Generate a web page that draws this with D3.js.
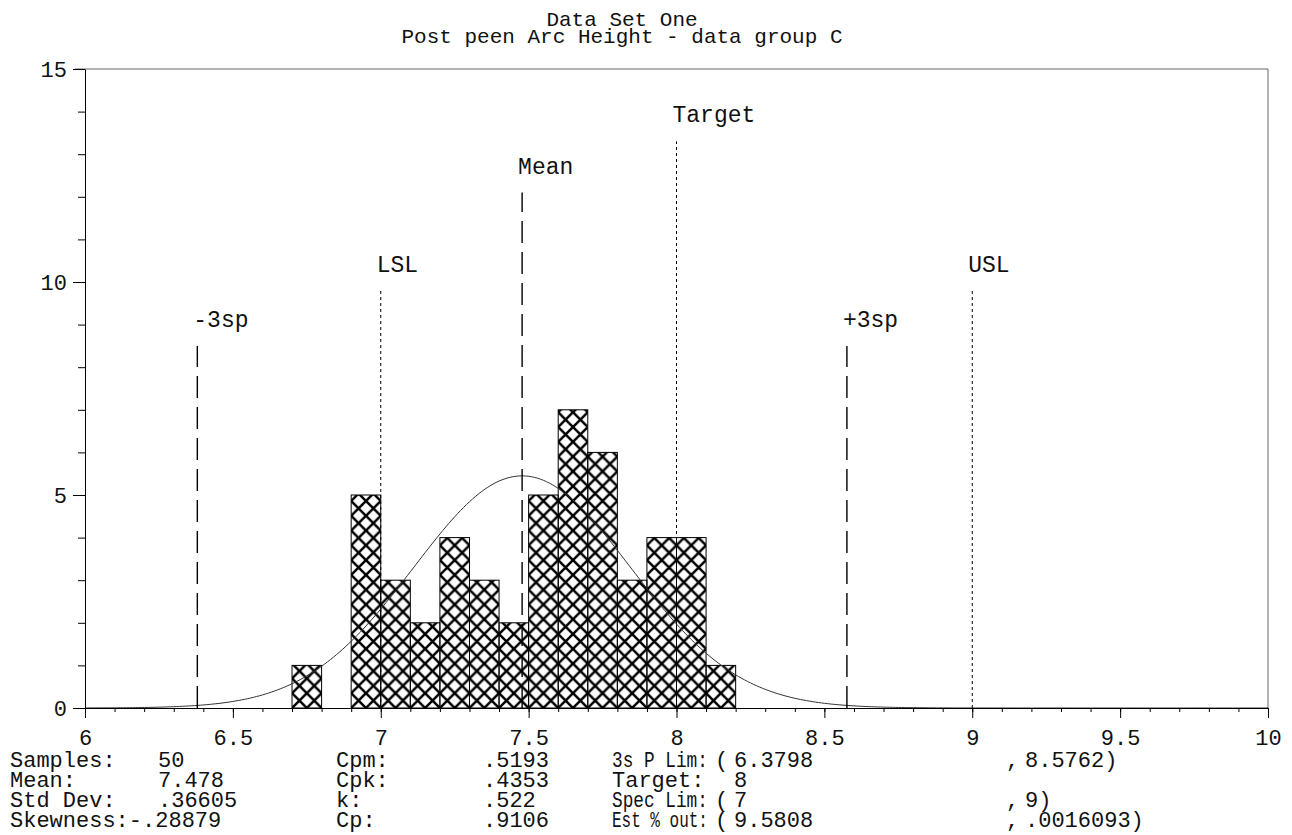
<!DOCTYPE html>
<html>
<head>
<meta charset="utf-8">
<script src="https://cdn.jsdelivr.net/npm/d3@7"></script>
<style>
  html, body { margin: 0; padding: 0; background: #fff; }
  svg { display: block; }
  text { font-family: "Liberation Mono", "Courier New", monospace; fill: #111; }
</style>
</head>
<body>
<svg id="chart" width="1292" height="835"></svg>
<script>
// ---- histogram data: bin start (width 0.1) and counts ----
const binStarts = [6.7, 6.9, 7.0, 7.1, 7.2, 7.3, 7.4, 7.5, 7.6, 7.7, 7.8, 7.9, 8.0, 8.1];
const binCounts = [1, 5, 3, 2, 4, 3, 2, 5, 7, 6, 3, 4, 4, 1];
const binWidth = 0.1;

// ---- summary statistics ----
const samples = 50;
const mean = 7.478;
const stdDev = 0.36605;

// ---- reference lines ----
const markerNames  = ["-3sp", "LSL", "Mean", "Target", "+3sp", "USL"];
const markerValues = [6.3798, 7, 7.478, 8, 8.5762, 9];
const markerTops   = [8.5, 9.8, 12.1, 13.3, 8.5, 9.8];
const markerKinds  = ["dash", "dot", "dash", "dot", "dash", "dot"];

// ---- axis ticks ----
const xMajorTicks = [6, 6.5, 7, 7.5, 8, 8.5, 9, 9.5, 10];
const xMinorTicks = d3.range(60, 101).map(d => d / 10);
const yMajorTicks = [0, 5, 10, 15];
const yMinorTicks = d3.range(0, 16);

// ---- statistics table ----
const statNames1  = ["Samples:", "Mean:", "Std Dev:", "Skewness:"];
const statVals1   = ["50", "7.478", ".36605", "-.28879"];
const statNames2  = ["Cpm:", "Cpk:", "k:", "Cp:"];
const statVals2   = [".5193", ".4353", ".522", ".9106"];
const statNames3  = ["3s P Lim:", "Target:", "Spec Lim:", "Est % out:"];
const statLow3    = ["6.3798", "8", "7", "9.5808"];
const statHigh3   = ["8.5762)", null, "9)", ".0016093)"];
const statParen3  = [true, false, true, true];

const titleLines = ["Data Set One", "Post peen Arc Height - data group C"];

const svg = d3.select("#chart");
const x = d3.scaleLinear().domain([6, 10]).range([85, 1268]);
const y = d3.scaleLinear().domain([0, 15]).range([708, 69]);

// title
svg.append("g").selectAll("text").data(titleLines).join("text")
  .attr("x", 622).attr("y", (d, i) => 26 + i * 17)
  .attr("text-anchor", "middle").style("font-size", "21px").text(d => d);

// cross-hatch fill
const tile = (x(6 + binWidth) - x(6)) / 2;
const pat = svg.append("defs").append("pattern")
  .attr("id", "xhatch").attr("patternUnits", "userSpaceOnUse")
  .attr("x", x(7)).attr("y", y(0))
  .attr("width", tile).attr("height", tile);
pat.append("path")
  .attr("d", `M-1,-1L${tile + 1},${tile + 1}M${tile + 1},-1L-1,${tile + 1}`)
  .attr("stroke", "#000").attr("stroke-width", 2.5).attr("fill", "none");

// frame (top and right)
svg.append("path")
  .attr("d", `M${x(6) - 10},${y(15)}H${x(10)}V${y(0)}`)
  .attr("fill", "none").attr("stroke", "#666").attr("stroke-width", 1);

// bars
svg.append("g").selectAll("rect").data(binStarts).join("rect")
  .attr("x", d => x(d))
  .attr("width", d => x(d + binWidth) - x(d))
  .attr("y", (d, i) => y(binCounts[i]))
  .attr("height", (d, i) => y(0) - y(binCounts[i]))
  .attr("fill", "url(#xhatch)")
  .attr("stroke", "#000").attr("stroke-width", 1);

// fitted normal curve
const scaleN = samples * binWidth / (stdDev * Math.sqrt(2 * Math.PI));
const curveX = d3.range(600, 1001).map(d => d / 100);
svg.append("path")
  .datum(curveX)
  .attr("fill", "none").attr("stroke", "#333").attr("stroke-width", 1)
  .attr("d", d3.line()
    .x(d => x(d))
    .y(d => y(scaleN * Math.exp(-0.5 * Math.pow((d - mean) / stdDev, 2)))));

// reference lines and labels
const mk = svg.append("g");
markerValues.forEach((v, i) => {
  const dash = markerKinds[i] === "dash";
  mk.append("line")
    .attr("x1", x(v)).attr("x2", x(v))
    .attr("y1", y(0)).attr("y2", y(markerTops[i]))
    .attr("stroke", "#000")
    .attr("stroke-width", dash ? 1.4 : 1)
    .attr("stroke-dasharray", dash ? "22,9" : "3,3");
  mk.append("text")
    .attr("x", x(v) - 4).attr("y", y(markerTops[i]) - 19)
    .style("font-size", "23px").text(markerNames[i]);
});

// x axis
const xMinor = svg.append("g").attr("transform", `translate(0,${y(0)})`)
  .call(d3.axisBottom(x).tickValues(xMinorTicks).tickSize(4).tickFormat(""));
xMinor.select(".domain").remove();
const xAxis = svg.append("g").attr("transform", `translate(0,${y(0)})`)
  .call(d3.axisBottom(x).tickValues(xMajorTicks).tickSize(10).tickSizeOuter(0)
    .tickPadding(11).tickFormat(d => String(d)));
xAxis.selectAll("text").style("font-size", "22px").attr("fill", "#111");

// y axis
const yMinor = svg.append("g").attr("transform", `translate(${x(6)},0)`)
  .call(d3.axisLeft(y).tickValues(yMinorTicks).tickSize(7).tickFormat(""));
yMinor.select(".domain").remove();
const yAxis = svg.append("g").attr("transform", `translate(${x(6)},0)`)
  .call(d3.axisLeft(y).tickValues(yMajorTicks).tickSize(12).tickSizeOuter(0)
    .tickPadding(6).tickFormat(d => String(d)));
yAxis.selectAll("text").style("font-size", "22px").attr("fill", "#111");
svg.selectAll(".tick line, .domain").attr("stroke", "#000");

// statistics block
const rowY = i => 767 + i * 20;
const st = svg.append("g").style("font-size", "22px");
statNames1.forEach((n, i) => {
  const t = st.append("text").attr("x", 10).attr("y", rowY(i)).text(n);
  const end = 10 + t.node().getComputedTextLength();
  // long labels run straight into their value
  st.append("text").attr("x", n.length > 8 ? end : 158).attr("y", rowY(i)).text(statVals1[i]);
});
statNames2.forEach((n, i) => {
  st.append("text").attr("x", 336).attr("y", rowY(i)).text(n);
  st.append("text").attr("x", 483).attr("y", rowY(i)).text(statVals2[i]);
});
const col3Width = 96;
statNames3.forEach((n, i) => {
  // third-column captions are squeezed horizontally to fit before the brackets
  const t = st.append("text").attr("x", 0).attr("y", 0).text(n);
  const w = t.node().getComputedTextLength();
  const sx = w > col3Width ? col3Width / w : 1;
  t.attr("transform", `translate(612,${rowY(i)}) scale(${sx},1)`);
  if (statParen3[i]) st.append("text").attr("x", 715).attr("y", rowY(i)).text("(");
  st.append("text").attr("x", 734).attr("y", rowY(i)).text(statLow3[i]);
  if (statHigh3[i]) {
    st.append("text").attr("x", 1006).attr("y", rowY(i)).text(",");
    st.append("text").attr("x", 1025).attr("y", rowY(i)).text(statHigh3[i]);
  }
});
</script>
</body>
</html>
